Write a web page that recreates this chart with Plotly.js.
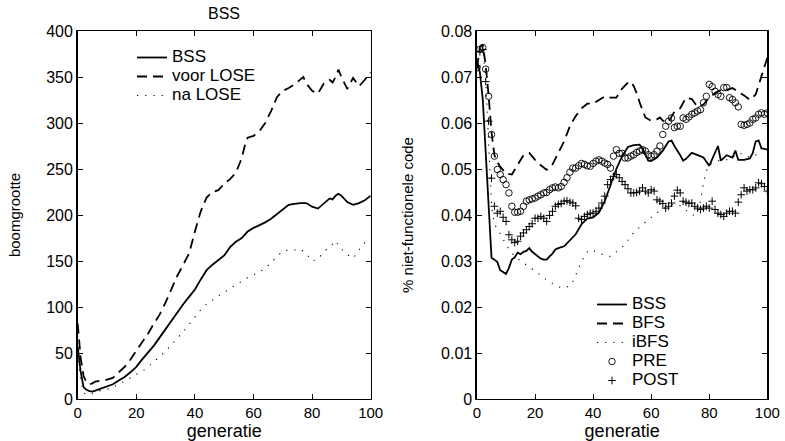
<!DOCTYPE html>
<html>
<head>
<meta charset="utf-8">
<script src="https://cdn.plot.ly/plotly-3.0.1.min.js"></script>
<style>html,body{margin:0;padding:0;background:#fff;}#chart{width:785px;height:441px;}</style>
</head>
<body>
<div id="chart"></div>
<script>
// ---------- Left panel: boomgrootte ----------
const leftGenBSS = [0,1,2,3,4,5,6,8,10,12,14,16,18,20,22,24,26,28,30,32,34,36,38,40,42,44,46,48,50,52,54,56,58,60,62,64,66,68,70,72,74,76,78,80,82,84,86,87,88,89,90,92,94,96,98,100];
const leftBSS = [57,30,13,10,8.5,8,9,11.5,13.5,16,20,24,29,35,43,50,58,67,76,85,95,103,111,119,130,140,146,151,156,165,171,175,182,186,189,192,196,201,206,211,212,213,213,209,207,213,218,217,221,223,221,214,211,213,216,221];

const leftGenVoor = [0,1,2,3,4,5,6,8,10,12,14,16,18,20,22,24,26,28,30,32,34,36,38,40,42,44,46,48,50,52,54,56,57,58,60,62,64,66,68,70,72,74,76,77,78,80,82,84,86,87,88,89,90,92,94,95,96,98,100];
const leftVoor = [82,45,25,18,16,17,19,20,21,23,29,35,43,52,61,71,82,92,105,120,134,146,158,182,204,219,225,227,234,239,246,262,275,284,286,291,300,313,328,335,338,342,348,350,343,335,332,343,347,344,350,358,350,337,349,345,340,347,355];

const leftGenNa = [0,1,2,3,4,5,6,8,10,12,14,16,18,20,22,24,26,28,30,32,34,36,38,40,42,44,46,48,50,52,54,56,58,60,62,64,66,68,70,72,74,76,78,80,82,84,86,88,90,92,94,96,98,100];
const leftNa = [50,20,7,4.5,5,6,8,9,10.5,12.5,16,19,23,27,30,35,40,46,52,59,65,73,81,89,97,103,108,112,116,120,124,128,132,135,138,142,148,155,161,162,162,163,158,150,152,160,165,172,163,157,153,162,170,167];

// ---------- Right panel: % niet-functionele code ----------
const rightGenBSS = [0,1,2,3,4,5,6,7,8,9,10,11,12,13,14,15,16,17,18,19,20,21,22,23,24,25,26,27,28,30,32,34,36,38,40,42,44,46,48,50,52,54,56,57,58,59,60,62,64,66,67,68,70,71,72,74,76,78,80,82,83,84,86,88,89,90,92,94,95,96,97,98,100];
const rightBSS = [0.0735,0.071,0.065,0.054,0.041,0.0307,0.0303,0.0298,0.028,0.0275,0.0272,0.0285,0.0303,0.0308,0.0318,0.0315,0.032,0.0322,0.0328,0.032,0.0315,0.031,0.0305,0.0303,0.0303,0.031,0.0316,0.0325,0.0328,0.0332,0.0345,0.0358,0.038,0.0392,0.0395,0.0405,0.043,0.0465,0.05,0.0528,0.0548,0.0552,0.0553,0.0545,0.053,0.0518,0.0517,0.0525,0.054,0.056,0.0562,0.055,0.053,0.0518,0.0522,0.0535,0.053,0.0525,0.0507,0.0535,0.055,0.0518,0.053,0.0525,0.054,0.052,0.052,0.0523,0.0535,0.056,0.0562,0.0545,0.0542];

const rightGenBFS = [0,1,2,3,4,5,6,7,8,10,12,14,16,18,20,22,24,26,28,30,32,34,36,38,40,42,44,46,48,50,52,53,54,55,56,58,60,62,63,64,66,68,70,72,74,76,78,80,82,84,86,88,90,92,94,96,98,100];
const rightBFS = [0.072,0.0765,0.077,0.0725,0.066,0.058,0.053,0.0515,0.0505,0.049,0.0488,0.051,0.053,0.0535,0.052,0.0508,0.0498,0.051,0.0535,0.056,0.0593,0.0615,0.0632,0.0642,0.0642,0.065,0.0658,0.0655,0.0655,0.0675,0.0688,0.069,0.068,0.0665,0.0645,0.0612,0.0605,0.0608,0.0612,0.0605,0.0602,0.0625,0.0632,0.0655,0.0652,0.0635,0.064,0.0655,0.0665,0.0672,0.0672,0.0676,0.0668,0.066,0.065,0.0662,0.0702,0.0742];

const rightGenIBFS = [0,1,2,3,4,5,6,8,10,12,14,16,18,20,22,24,26,28,30,32,33,34,36,38,39,40,42,44,46,48,50,52,54,56,58,60,62,64,66,68,70,72,74,75,76,77,78,79,80,82,84,86,88,90,92,94,96,98,100];
const rightIBFS = [0.072,0.0765,0.0768,0.069,0.056,0.042,0.038,0.036,0.0335,0.0317,0.0305,0.0295,0.0287,0.0278,0.0268,0.0259,0.0251,0.0244,0.0241,0.0246,0.0255,0.027,0.0299,0.032,0.0325,0.0323,0.0318,0.0312,0.031,0.032,0.033,0.0345,0.0362,0.0373,0.0385,0.0395,0.0405,0.0412,0.042,0.0424,0.042,0.041,0.0402,0.0398,0.041,0.043,0.047,0.0495,0.051,0.0515,0.052,0.052,0.0525,0.0535,0.0532,0.0525,0.053,0.0545,0.054];

const markerGen = Array.from({length: 101}, (_, i) => i);
const rightPRE = [0.072,0.076,0.0764,0.0717,0.0658,0.0575,0.0528,0.0499,0.0488,0.0477,
0.0466,0.0448,0.0419,0.0406,0.0406,0.0408,0.0419,0.043,0.0433,0.0435,
0.0437,0.0441,0.0444,0.0448,0.0449,0.0455,0.0459,0.0461,0.0459,0.0462,
0.0471,0.0481,0.0493,0.0502,0.0502,0.0507,0.0512,0.051,0.0507,0.0506,
0.0512,0.0517,0.052,0.0517,0.0513,0.051,0.0502,0.0528,0.0542,0.0534,
0.0534,0.0524,0.0524,0.0528,0.0531,0.0536,0.0539,0.0542,0.0539,0.0531,
0.0528,0.0531,0.0539,0.055,0.0575,0.0593,0.0604,0.0611,0.059,0.0593,
0.0593,0.0611,0.0608,0.0613,0.0619,0.0622,0.0626,0.0629,0.0644,0.0658,
0.0684,0.0679,0.0669,0.0662,0.0658,0.0677,0.0677,0.0655,0.0651,0.0644,
0.0635,0.0597,0.0595,0.0597,0.06,0.0608,0.0611,0.0619,0.0622,0.0619,
0.0622];
const rightPOST = [0.0724,0.0755,0.076,0.069,0.0604,0.048,0.0419,0.0404,0.0408,0.0395,
0.0386,0.0357,0.0346,0.034,0.0343,0.0354,0.0361,0.0368,0.0375,0.0381,
0.0393,0.0393,0.0397,0.0393,0.0386,0.0399,0.0408,0.0419,0.0423,0.0425,
0.043,0.0431,0.0428,0.0426,0.042,0.0393,0.039,0.0397,0.0401,0.0404,
0.0404,0.0408,0.0415,0.0426,0.0441,0.0466,0.0477,0.0484,0.0488,0.0481,
0.0473,0.0466,0.0457,0.0448,0.0448,0.0449,0.0452,0.0459,0.0452,0.0448,
0.0455,0.0452,0.0433,0.043,0.0425,0.0415,0.0419,0.0426,0.0441,0.0454,
0.0448,0.043,0.0428,0.0425,0.0426,0.0419,0.0415,0.0412,0.0415,0.0419,
0.0415,0.043,0.0412,0.0404,0.0401,0.0397,0.0404,0.0408,0.0408,0.0404,
0.0428,0.0444,0.0459,0.0452,0.0455,0.0455,0.0459,0.047,0.0468,0.0462,
0.0452];

// ---------- Ticks & labels ----------
const xTicks = [0,20,40,60,80,100];
const leftYTicks = [0,50,100,150,200,250,300,350,400];
const rightYTicks = [0,0.01,0.02,0.03,0.04,0.05,0.06,0.07,0.08];
const rightYTickText = ['0','0.01','0.02','0.03','0.04','0.05','0.06','0.07','0.08'];
const leftNames = ['BSS','voor LOSE','na LOSE'];
const rightNames = ['BSS','BFS','iBFS','PRE','POST'];

const FONT = 'Liberation Sans, Arial, Helvetica, sans-serif';
const lbl = s => '<span style="font-size:17px">' + s + '</span>';

const traces = [
  {x: leftGenBSS, y: leftBSS, name: lbl(leftNames[0]), mode: 'lines', line: {color: 'black', width: 1.8}, xaxis: 'x', yaxis: 'y', legend: 'legend'},
  {x: leftGenVoor, y: leftVoor, name: lbl(leftNames[1]), mode: 'lines', line: {color: 'black', width: 1.8, dash: '10px,6px'}, xaxis: 'x', yaxis: 'y', legend: 'legend'},
  {x: leftGenNa, y: leftNa, name: lbl(leftNames[2]), mode: 'lines', line: {color: 'black', width: 1.1, dash: '1.2px,7px'}, xaxis: 'x', yaxis: 'y', legend: 'legend'},
  {x: rightGenBSS, y: rightBSS, name: lbl(rightNames[0]), mode: 'lines', line: {color: 'black', width: 1.8}, xaxis: 'x2', yaxis: 'y2', legend: 'legend2'},
  {x: rightGenBFS, y: rightBFS, name: lbl(rightNames[1]), mode: 'lines', line: {color: 'black', width: 1.8, dash: '10px,6px'}, xaxis: 'x2', yaxis: 'y2', legend: 'legend2'},
  {x: rightGenIBFS, y: rightIBFS, name: lbl(rightNames[2]), mode: 'lines', line: {color: 'black', width: 1.1, dash: '1.2px,7px'}, xaxis: 'x2', yaxis: 'y2', legend: 'legend2'},
  {x: markerGen, y: rightPRE, name: lbl(rightNames[3]), mode: 'markers', marker: {symbol: 'circle-open', size: 6.5, color: 'black', line: {color: 'black', width: 0.9}}, xaxis: 'x2', yaxis: 'y2', legend: 'legend2'},
  {x: markerGen, y: rightPOST, name: lbl(rightNames[4]), mode: 'markers', marker: {symbol: 'cross-thin-open', size: 5.5, color: 'black', line: {color: 'black', width: 1}}, xaxis: 'x2', yaxis: 'y2', legend: 'legend2'}
];

const axisCommon = {
  showline: true, linecolor: 'black', mirror: 'ticks', ticks: 'inside', ticklen: 5, tickwidth: 1, tickcolor: 'black',
  showgrid: false, zeroline: false, automargin: false, fixedrange: true,
  tickfont: {family: FONT, size: 16, color: 'black'}
};
const xTickFont = {family: FONT, size: 15, color: 'black'};
const xTitleFont = {family: FONT, size: 18, color: 'black'};
const yTitleFont = {family: FONT, size: 15, color: 'black'};
const yDom = [42/441, 410/441];

const layout = {
  width: 785, height: 441,
  margin: {l: 0, r: 0, t: 0, b: 0},
  paper_bgcolor: 'white', plot_bgcolor: 'white',
  font: {family: FONT, color: 'black', size: 16},
  title: {text: 'BSS', x: 224/785, xanchor: 'center', xref: 'paper', y: 1 - 13.5/441, yanchor: 'middle', yref: 'container', font: {family: FONT, size: 16, color: 'black'}},
  showlegend: true,
  hovermode: false,
  xaxis: Object.assign({}, axisCommon, {domain: [77.7/785, 370.7/785], range: [0, 100], tickvals: xTicks, anchor: 'y', linewidth: 1,
    tickfont: xTickFont, title: {text: 'generatie', font: xTitleFont, standoff: 0}}),
  yaxis: Object.assign({}, axisCommon, {domain: yDom, range: [0, 400], tickvals: leftYTicks, anchor: 'x', linewidth: 1.6,
    title: {text: 'boomgrootte', font: yTitleFont, standoff: 22}}),
  xaxis2: Object.assign({}, axisCommon, {domain: [477/785, 767.3/785], range: [0, 100], tickvals: xTicks, anchor: 'y2', linewidth: 1,
    tickfont: xTickFont, title: {text: 'generatie', font: xTitleFont, standoff: 0}}),
  yaxis2: Object.assign({}, axisCommon, {domain: yDom, range: [0, 0.08], tickvals: rightYTicks, ticktext: rightYTickText, anchor: 'x2', linewidth: 1.6,
    title: {text: '% niet-functionele code', font: yTitleFont, standoff: 24}}),
  legend: {x: 132/785, y: 1 - 43/441, xanchor: 'left', yanchor: 'top', bgcolor: 'rgba(0,0,0,0)', borderwidth: 0, font: {family: FONT, size: 11, color: 'black'}, tracegroupgap: 0},
  legend2: {x: 592/785, y: 1 - 290/441, xanchor: 'left', yanchor: 'top', bgcolor: 'rgba(0,0,0,0)', borderwidth: 0, font: {family: FONT, size: 11, color: 'black'}, tracegroupgap: 0}
};

Plotly.newPlot('chart', traces, layout, {staticPlot: true, displayModeBar: false});
</script>
</body>
</html>
